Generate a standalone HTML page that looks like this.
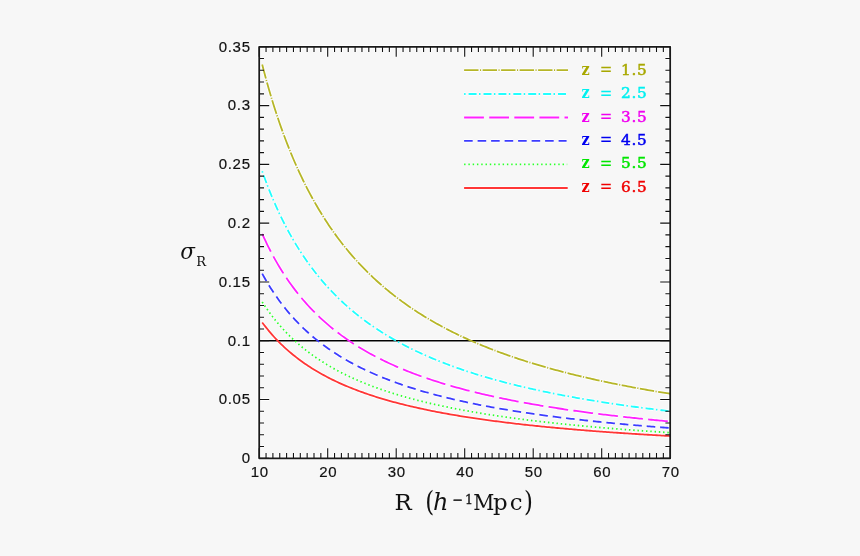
<!DOCTYPE html>
<html><head><meta charset="utf-8"><title>sigma_R vs R</title>
<style>
html,body{margin:0;padding:0;background:#f7f7f7;}
body{width:860px;height:556px;overflow:hidden;}
svg{display:block;will-change:transform;}
.tk{font-family:"Liberation Sans",sans-serif;font-size:15px;fill:#111;stroke:#111;stroke-width:0.2px;letter-spacing:0.7px;}
.dser{font-family:"DejaVu Serif",serif;fill:#111;}
.dserc{font-family:"DejaVu Serif Condensed","DejaVu Serif",serif;fill:#111;}
</style></head><body>
<svg width="860" height="556" viewBox="0 0 860 556">

<path d="M262.21 64.53 L263.92 71.12 L265.63 77.50 L267.34 83.69 L269.04 89.69 L270.75 95.51 L272.46 101.16 L274.16 106.65 L275.87 111.98 L277.58 117.17 L279.28 122.21 L280.99 127.11 L282.70 131.88 L284.41 136.52 L286.11 141.04 L287.82 145.45 L289.53 149.74 L291.23 153.93 L292.94 158.01 L294.65 161.99 L296.36 165.87 L298.06 169.66 L299.77 173.36 L301.48 176.98 L303.18 180.51 L304.89 183.96 L306.60 187.33 L308.30 190.63 L310.01 193.85 L311.72 197.01 L313.43 200.09 L315.13 203.11 L316.84 206.07 L318.55 208.96 L320.25 211.80 L321.96 214.57 L323.67 217.29 L325.38 219.96 L327.08 222.57 L328.79 225.13 L330.50 227.64 L332.20 230.10 L333.91 232.52 L335.62 234.88 L337.32 237.21 L339.03 239.49 L340.74 241.73 L342.45 243.93 L344.15 246.08 L345.86 248.20 L347.57 250.28 L349.27 252.33 L350.98 254.34 L352.69 256.31 L354.39 258.25 L356.10 260.16 L357.81 262.03 L359.52 263.87 L361.22 265.68 L362.93 267.47 L364.64 269.22 L366.34 270.94 L368.05 272.64 L369.76 274.31 L371.47 275.95 L373.17 277.57 L374.88 279.16 L376.59 280.73 L378.29 282.27 L380.00 283.79 L381.71 285.28 L383.41 286.75 L385.12 288.21 L386.83 289.63 L388.54 291.04 L390.24 292.43 L391.95 293.80 L393.66 295.14 L395.36 296.47 L397.07 297.78 L398.78 299.07 L400.49 300.34 L402.19 301.60 L403.90 302.84 L405.61 304.06 L407.31 305.26 L409.02 306.44 L410.73 307.62 L412.43 308.77 L414.14 309.91 L415.85 311.03 L417.56 312.14 L419.26 313.24 L420.97 314.32 L422.68 315.38 L424.38 316.44 L426.09 317.48 L427.80 318.50 L429.51 319.51 L431.21 320.51 L432.92 321.50 L434.63 322.48 L436.33 323.44 L438.04 324.39 L439.75 325.33 L441.45 326.26 L443.16 327.18 L444.87 328.08 L446.58 328.98 L448.28 329.86 L449.99 330.73 L451.70 331.60 L453.40 332.45 L455.11 333.30 L456.82 334.13 L458.53 334.95 L460.23 335.77 L461.94 336.57 L463.65 337.37 L465.35 338.16 L467.06 338.93 L468.77 339.70 L470.47 340.47 L472.18 341.22 L473.89 341.96 L475.60 342.70 L477.30 343.43 L479.01 344.15 L480.72 344.86 L482.42 345.56 L484.13 346.26 L485.84 346.95 L487.55 347.63 L489.25 348.31 L490.96 348.98 L492.67 349.64 L494.37 350.29 L496.08 350.94 L497.79 351.58 L499.49 352.22 L501.20 352.85 L502.91 353.47 L504.62 354.08 L506.32 354.69 L508.03 355.30 L509.74 355.89 L511.44 356.48 L513.15 357.07 L514.86 357.65 L516.57 358.22 L518.27 358.79 L519.98 359.35 L521.69 359.91 L523.39 360.46 L525.10 361.01 L526.81 361.55 L528.51 362.09 L530.22 362.62 L531.93 363.14 L533.64 363.67 L535.34 364.18 L537.05 364.69 L538.76 365.20 L540.46 365.70 L542.17 366.20 L543.88 366.69 L545.59 367.18 L547.29 367.67 L549.00 368.15 L550.71 368.62 L552.41 369.09 L554.12 369.56 L555.83 370.02 L557.53 370.48 L559.24 370.94 L560.95 371.39 L562.66 371.83 L564.36 372.28 L566.07 372.72 L567.78 373.15 L569.48 373.58 L571.19 374.01 L572.90 374.43 L574.60 374.85 L576.31 375.27 L578.02 375.69 L579.73 376.10 L581.43 376.50 L583.14 376.90 L584.85 377.30 L586.55 377.70 L588.26 378.09 L589.97 378.48 L591.68 378.87 L593.38 379.25 L595.09 379.63 L596.80 380.01 L598.50 380.39 L600.21 380.76 L601.92 381.12 L603.62 381.49 L605.33 381.85 L607.04 382.21 L608.75 382.57 L610.45 382.92 L612.16 383.27 L613.87 383.62 L615.57 383.97 L617.28 384.31 L618.99 384.65 L620.70 384.99 L622.40 385.32 L624.11 385.65 L625.82 385.98 L627.52 386.31 L629.23 386.64 L630.94 386.96 L632.64 387.28 L634.35 387.60 L636.06 387.91 L637.77 388.22 L639.47 388.53 L641.18 388.84 L642.89 389.15 L644.59 389.45 L646.30 389.75 L648.01 390.05 L649.72 390.35 L651.42 390.64 L653.13 390.94 L654.84 391.23 L656.54 391.52 L658.25 391.80 L659.96 392.09 L661.66 392.37 L663.37 392.65 L665.08 392.93 L666.79 393.20 L668.49 393.48 L670.20 393.75" fill="none" stroke="#fff" stroke-width="3.6" stroke-dasharray="14.4 1.5 1.1 1.5"/>
<path d="M262.21 171.24 L263.92 176.04 L265.63 180.70 L267.34 185.21 L269.04 189.58 L270.75 193.83 L272.46 197.95 L274.16 201.95 L275.87 205.84 L277.58 209.61 L279.28 213.29 L280.99 216.86 L282.70 220.34 L284.41 223.72 L286.11 227.02 L287.82 230.23 L289.53 233.36 L291.23 236.41 L292.94 239.39 L294.65 242.29 L296.36 245.12 L298.06 247.88 L299.77 250.58 L301.48 253.22 L303.18 255.79 L304.89 258.31 L306.60 260.77 L308.30 263.17 L310.01 265.52 L311.72 267.82 L313.43 270.07 L315.13 272.27 L316.84 274.42 L318.55 276.53 L320.25 278.60 L321.96 280.62 L323.67 282.61 L325.38 284.55 L327.08 286.45 L328.79 288.32 L330.50 290.15 L332.20 291.94 L333.91 293.70 L335.62 295.43 L337.32 297.12 L339.03 298.79 L340.74 300.42 L342.45 302.02 L344.15 303.59 L345.86 305.14 L347.57 306.66 L349.27 308.15 L350.98 309.61 L352.69 311.05 L354.39 312.46 L356.10 313.85 L357.81 315.22 L359.52 316.56 L361.22 317.88 L362.93 319.18 L364.64 320.46 L366.34 321.72 L368.05 322.95 L369.76 324.17 L371.47 325.37 L373.17 326.55 L374.88 327.71 L376.59 328.85 L378.29 329.97 L380.00 331.08 L381.71 332.17 L383.41 333.24 L385.12 334.30 L386.83 335.34 L388.54 336.37 L390.24 337.38 L391.95 338.38 L393.66 339.36 L395.36 340.33 L397.07 341.28 L398.78 342.22 L400.49 343.15 L402.19 344.06 L403.90 344.97 L405.61 345.86 L407.31 346.73 L409.02 347.60 L410.73 348.45 L412.43 349.29 L414.14 350.12 L415.85 350.94 L417.56 351.75 L419.26 352.55 L420.97 353.34 L422.68 354.11 L424.38 354.88 L426.09 355.64 L427.80 356.39 L429.51 357.13 L431.21 357.85 L432.92 358.57 L434.63 359.28 L436.33 359.99 L438.04 360.68 L439.75 361.37 L441.45 362.04 L443.16 362.71 L444.87 363.37 L446.58 364.02 L448.28 364.67 L449.99 365.30 L451.70 365.93 L453.40 366.56 L455.11 367.17 L456.82 367.78 L458.53 368.38 L460.23 368.97 L461.94 369.56 L463.65 370.14 L465.35 370.72 L467.06 371.28 L468.77 371.84 L470.47 372.40 L472.18 372.95 L473.89 373.49 L475.60 374.03 L477.30 374.56 L479.01 375.08 L480.72 375.60 L482.42 376.12 L484.13 376.62 L485.84 377.13 L487.55 377.63 L489.25 378.12 L490.96 378.60 L492.67 379.09 L494.37 379.56 L496.08 380.04 L497.79 380.50 L499.49 380.97 L501.20 381.42 L502.91 381.88 L504.62 382.33 L506.32 382.77 L508.03 383.21 L509.74 383.64 L511.44 384.08 L513.15 384.50 L514.86 384.92 L516.57 385.34 L518.27 385.76 L519.98 386.17 L521.69 386.57 L523.39 386.98 L525.10 387.38 L526.81 387.77 L528.51 388.16 L530.22 388.55 L531.93 388.93 L533.64 389.31 L535.34 389.69 L537.05 390.06 L538.76 390.43 L540.46 390.80 L542.17 391.16 L543.88 391.52 L545.59 391.88 L547.29 392.23 L549.00 392.58 L550.71 392.92 L552.41 393.27 L554.12 393.61 L555.83 393.95 L557.53 394.28 L559.24 394.61 L560.95 394.94 L562.66 395.27 L564.36 395.59 L566.07 395.91 L567.78 396.23 L569.48 396.54 L571.19 396.85 L572.90 397.16 L574.60 397.47 L576.31 397.77 L578.02 398.07 L579.73 398.37 L581.43 398.67 L583.14 398.96 L584.85 399.25 L586.55 399.54 L588.26 399.83 L589.97 400.11 L591.68 400.40 L593.38 400.68 L595.09 400.95 L596.80 401.23 L598.50 401.50 L600.21 401.77 L601.92 402.04 L603.62 402.31 L605.33 402.57 L607.04 402.83 L608.75 403.09 L610.45 403.35 L612.16 403.61 L613.87 403.86 L615.57 404.11 L617.28 404.36 L618.99 404.61 L620.70 404.86 L622.40 405.10 L624.11 405.34 L625.82 405.58 L627.52 405.82 L629.23 406.06 L630.94 406.29 L632.64 406.53 L634.35 406.76 L636.06 406.99 L637.77 407.21 L639.47 407.44 L641.18 407.67 L642.89 407.89 L644.59 408.11 L646.30 408.33 L648.01 408.55 L649.72 408.76 L651.42 408.98 L653.13 409.19 L654.84 409.40 L656.54 409.61 L658.25 409.82 L659.96 410.03 L661.66 410.24 L663.37 410.44 L665.08 410.64 L666.79 410.84 L668.49 411.04 L670.20 411.24" fill="none" stroke="#fff" stroke-width="3.6" stroke-dasharray="1.5 3.0 8 2.4"/>
<path d="M262.21 233.85 L263.92 237.60 L265.63 241.24 L267.34 244.77 L269.04 248.19 L270.75 251.51 L272.46 254.73 L274.16 257.86 L275.87 260.90 L277.58 263.85 L279.28 266.73 L280.99 269.52 L282.70 272.24 L284.41 274.89 L286.11 277.46 L287.82 279.97 L289.53 282.42 L291.23 284.81 L292.94 287.13 L294.65 289.40 L296.36 291.62 L298.06 293.78 L299.77 295.89 L301.48 297.95 L303.18 299.96 L304.89 301.93 L306.60 303.85 L308.30 305.73 L310.01 307.57 L311.72 309.36 L313.43 311.12 L315.13 312.84 L316.84 314.53 L318.55 316.18 L320.25 317.79 L321.96 319.38 L323.67 320.93 L325.38 322.44 L327.08 323.93 L328.79 325.39 L330.50 326.82 L332.20 328.23 L333.91 329.60 L335.62 330.95 L337.32 332.28 L339.03 333.58 L340.74 334.85 L342.45 336.11 L344.15 337.34 L345.86 338.54 L347.57 339.73 L349.27 340.90 L350.98 342.04 L352.69 343.17 L354.39 344.27 L356.10 345.36 L357.81 346.43 L359.52 347.48 L361.22 348.51 L362.93 349.52 L364.64 350.52 L366.34 351.51 L368.05 352.47 L369.76 353.42 L371.47 354.36 L373.17 355.28 L374.88 356.19 L376.59 357.08 L378.29 357.96 L380.00 358.83 L381.71 359.68 L383.41 360.52 L385.12 361.35 L386.83 362.16 L388.54 362.96 L390.24 363.75 L391.95 364.53 L393.66 365.30 L395.36 366.06 L397.07 366.80 L398.78 367.54 L400.49 368.27 L402.19 368.98 L403.90 369.69 L405.61 370.38 L407.31 371.07 L409.02 371.74 L410.73 372.41 L412.43 373.07 L414.14 373.72 L415.85 374.36 L417.56 374.99 L419.26 375.61 L420.97 376.23 L422.68 376.84 L424.38 377.44 L426.09 378.03 L427.80 378.61 L429.51 379.19 L431.21 379.76 L432.92 380.32 L434.63 380.88 L436.33 381.43 L438.04 381.97 L439.75 382.51 L441.45 383.04 L443.16 383.56 L444.87 384.08 L446.58 384.59 L448.28 385.09 L449.99 385.59 L451.70 386.08 L453.40 386.57 L455.11 387.05 L456.82 387.52 L458.53 387.99 L460.23 388.46 L461.94 388.92 L463.65 389.37 L465.35 389.82 L467.06 390.26 L468.77 390.70 L470.47 391.13 L472.18 391.56 L473.89 391.99 L475.60 392.41 L477.30 392.82 L479.01 393.23 L480.72 393.64 L482.42 394.04 L484.13 394.44 L485.84 394.83 L487.55 395.22 L489.25 395.61 L490.96 395.99 L492.67 396.36 L494.37 396.74 L496.08 397.11 L497.79 397.47 L499.49 397.83 L501.20 398.19 L502.91 398.55 L504.62 398.90 L506.32 399.24 L508.03 399.59 L509.74 399.93 L511.44 400.26 L513.15 400.60 L514.86 400.93 L516.57 401.26 L518.27 401.58 L519.98 401.90 L521.69 402.22 L523.39 402.53 L525.10 402.84 L526.81 403.15 L528.51 403.46 L530.22 403.76 L531.93 404.06 L533.64 404.36 L535.34 404.65 L537.05 404.94 L538.76 405.23 L540.46 405.52 L542.17 405.80 L543.88 406.08 L545.59 406.36 L547.29 406.64 L549.00 406.91 L550.71 407.18 L552.41 407.45 L554.12 407.72 L555.83 407.98 L557.53 408.24 L559.24 408.50 L560.95 408.76 L562.66 409.01 L564.36 409.27 L566.07 409.52 L567.78 409.77 L569.48 410.01 L571.19 410.25 L572.90 410.50 L574.60 410.74 L576.31 410.97 L578.02 411.21 L579.73 411.44 L581.43 411.67 L583.14 411.90 L584.85 412.13 L586.55 412.36 L588.26 412.58 L589.97 412.80 L591.68 413.02 L593.38 413.24 L595.09 413.46 L596.80 413.68 L598.50 413.89 L600.21 414.10 L601.92 414.31 L603.62 414.52 L605.33 414.72 L607.04 414.93 L608.75 415.13 L610.45 415.33 L612.16 415.53 L613.87 415.73 L615.57 415.93 L617.28 416.13 L618.99 416.32 L620.70 416.51 L622.40 416.70 L624.11 416.89 L625.82 417.08 L627.52 417.27 L629.23 417.45 L630.94 417.64 L632.64 417.82 L634.35 418.00 L636.06 418.18 L637.77 418.36 L639.47 418.53 L641.18 418.71 L642.89 418.88 L644.59 419.06 L646.30 419.23 L648.01 419.40 L649.72 419.57 L651.42 419.74 L653.13 419.90 L654.84 420.07 L656.54 420.23 L658.25 420.40 L659.96 420.56 L661.66 420.72 L663.37 420.88 L665.08 421.04 L666.79 421.19 L668.49 421.35 L670.20 421.51" fill="none" stroke="#fff" stroke-width="3.6" stroke-dasharray="19.8 5.3"/>
<path d="M262.21 273.62 L263.92 276.71 L265.63 279.70 L267.34 282.61 L269.04 285.42 L270.75 288.15 L272.46 290.80 L274.16 293.38 L275.87 295.88 L277.58 298.31 L279.28 300.67 L280.99 302.97 L282.70 305.21 L284.41 307.39 L286.11 309.51 L287.82 311.57 L289.53 313.59 L291.23 315.55 L292.94 317.46 L294.65 319.33 L296.36 321.15 L298.06 322.93 L299.77 324.67 L301.48 326.36 L303.18 328.02 L304.89 329.63 L306.60 331.22 L308.30 332.76 L310.01 334.28 L311.72 335.75 L313.43 337.20 L315.13 338.62 L316.84 340.00 L318.55 341.36 L320.25 342.69 L321.96 343.99 L323.67 345.27 L325.38 346.52 L327.08 347.74 L328.79 348.94 L330.50 350.12 L332.20 351.27 L333.91 352.41 L335.62 353.52 L337.32 354.61 L339.03 355.68 L340.74 356.73 L342.45 357.76 L344.15 358.77 L345.86 359.76 L347.57 360.74 L349.27 361.70 L350.98 362.64 L352.69 363.57 L354.39 364.48 L356.10 365.37 L357.81 366.25 L359.52 367.11 L361.22 367.96 L362.93 368.80 L364.64 369.62 L366.34 370.43 L368.05 371.23 L369.76 372.01 L371.47 372.78 L373.17 373.54 L374.88 374.28 L376.59 375.02 L378.29 375.74 L380.00 376.45 L381.71 377.15 L383.41 377.85 L385.12 378.53 L386.83 379.20 L388.54 379.86 L390.24 380.51 L391.95 381.15 L393.66 381.78 L395.36 382.40 L397.07 383.02 L398.78 383.62 L400.49 384.22 L402.19 384.81 L403.90 385.39 L405.61 385.96 L407.31 386.52 L409.02 387.08 L410.73 387.63 L412.43 388.17 L414.14 388.70 L415.85 389.23 L417.56 389.75 L419.26 390.27 L420.97 390.77 L422.68 391.27 L424.38 391.77 L426.09 392.25 L427.80 392.73 L429.51 393.21 L431.21 393.68 L432.92 394.14 L434.63 394.60 L436.33 395.05 L438.04 395.50 L439.75 395.94 L441.45 396.37 L443.16 396.80 L444.87 397.23 L446.58 397.65 L448.28 398.06 L449.99 398.47 L451.70 398.88 L453.40 399.28 L455.11 399.67 L456.82 400.06 L458.53 400.45 L460.23 400.83 L461.94 401.21 L463.65 401.58 L465.35 401.95 L467.06 402.32 L468.77 402.68 L470.47 403.04 L472.18 403.39 L473.89 403.74 L475.60 404.08 L477.30 404.42 L479.01 404.76 L480.72 405.10 L482.42 405.43 L484.13 405.75 L485.84 406.08 L487.55 406.40 L489.25 406.71 L490.96 407.03 L492.67 407.34 L494.37 407.65 L496.08 407.95 L497.79 408.25 L499.49 408.55 L501.20 408.84 L502.91 409.13 L504.62 409.42 L506.32 409.71 L508.03 409.99 L509.74 410.27 L511.44 410.55 L513.15 410.82 L514.86 411.09 L516.57 411.36 L518.27 411.63 L519.98 411.89 L521.69 412.16 L523.39 412.41 L525.10 412.67 L526.81 412.92 L528.51 413.18 L530.22 413.43 L531.93 413.67 L533.64 413.92 L535.34 414.16 L537.05 414.40 L538.76 414.64 L540.46 414.87 L542.17 415.11 L543.88 415.34 L545.59 415.57 L547.29 415.79 L549.00 416.02 L550.71 416.24 L552.41 416.46 L554.12 416.68 L555.83 416.90 L557.53 417.11 L559.24 417.33 L560.95 417.54 L562.66 417.75 L564.36 417.96 L566.07 418.16 L567.78 418.37 L569.48 418.57 L571.19 418.77 L572.90 418.97 L574.60 419.16 L576.31 419.36 L578.02 419.55 L579.73 419.75 L581.43 419.94 L583.14 420.13 L584.85 420.31 L586.55 420.50 L588.26 420.68 L589.97 420.87 L591.68 421.05 L593.38 421.23 L595.09 421.41 L596.80 421.58 L598.50 421.76 L600.21 421.93 L601.92 422.10 L603.62 422.28 L605.33 422.45 L607.04 422.61 L608.75 422.78 L610.45 422.95 L612.16 423.11 L613.87 423.28 L615.57 423.44 L617.28 423.60 L618.99 423.76 L620.70 423.92 L622.40 424.07 L624.11 424.23 L625.82 424.38 L627.52 424.54 L629.23 424.69 L630.94 424.84 L632.64 424.99 L634.35 425.14 L636.06 425.29 L637.77 425.43 L639.47 425.58 L641.18 425.72 L642.89 425.87 L644.59 426.01 L646.30 426.15 L648.01 426.29 L649.72 426.43 L651.42 426.57 L653.13 426.71 L654.84 426.84 L656.54 426.98 L658.25 427.11 L659.96 427.25 L661.66 427.38 L663.37 427.51 L665.08 427.64 L666.79 427.77 L668.49 427.90 L670.20 428.03" fill="none" stroke="#fff" stroke-width="3.6" stroke-dasharray="8.6 4.9"/>
<path d="M262.21 301.97 L263.92 304.59 L265.63 307.12 L267.34 309.58 L269.04 311.96 L270.75 314.27 L272.46 316.52 L274.16 318.70 L275.87 320.81 L277.58 322.87 L279.28 324.87 L280.99 326.82 L282.70 328.71 L284.41 330.55 L286.11 332.35 L287.82 334.10 L289.53 335.80 L291.23 337.46 L292.94 339.08 L294.65 340.66 L296.36 342.21 L298.06 343.71 L299.77 345.18 L301.48 346.62 L303.18 348.02 L304.89 349.39 L306.60 350.73 L308.30 352.04 L310.01 353.32 L311.72 354.57 L313.43 355.79 L315.13 356.99 L316.84 358.16 L318.55 359.31 L320.25 360.44 L321.96 361.54 L323.67 362.62 L325.38 363.68 L327.08 364.71 L328.79 365.73 L330.50 366.73 L332.20 367.71 L333.91 368.66 L335.62 369.60 L337.32 370.53 L339.03 371.43 L340.74 372.32 L342.45 373.19 L344.15 374.05 L345.86 374.89 L347.57 375.72 L349.27 376.53 L350.98 377.33 L352.69 378.11 L354.39 378.88 L356.10 379.64 L357.81 380.38 L359.52 381.11 L361.22 381.83 L362.93 382.54 L364.64 383.23 L366.34 383.92 L368.05 384.59 L369.76 385.26 L371.47 385.91 L373.17 386.55 L374.88 387.18 L376.59 387.80 L378.29 388.42 L380.00 389.02 L381.71 389.61 L383.41 390.20 L385.12 390.77 L386.83 391.34 L388.54 391.90 L390.24 392.45 L391.95 392.99 L393.66 393.53 L395.36 394.05 L397.07 394.57 L398.78 395.09 L400.49 395.59 L402.19 396.09 L403.90 396.58 L405.61 397.06 L407.31 397.54 L409.02 398.01 L410.73 398.48 L412.43 398.94 L414.14 399.39 L415.85 399.84 L417.56 400.28 L419.26 400.71 L420.97 401.14 L422.68 401.56 L424.38 401.98 L426.09 402.39 L427.80 402.80 L429.51 403.20 L431.21 403.60 L432.92 403.99 L434.63 404.38 L436.33 404.76 L438.04 405.14 L439.75 405.51 L441.45 405.88 L443.16 406.24 L444.87 406.60 L446.58 406.96 L448.28 407.31 L449.99 407.66 L451.70 408.00 L453.40 408.34 L455.11 408.67 L456.82 409.00 L458.53 409.33 L460.23 409.65 L461.94 409.97 L463.65 410.29 L465.35 410.60 L467.06 410.91 L468.77 411.22 L470.47 411.52 L472.18 411.82 L473.89 412.11 L475.60 412.41 L477.30 412.70 L479.01 412.98 L480.72 413.26 L482.42 413.54 L484.13 413.82 L485.84 414.09 L487.55 414.37 L489.25 414.63 L490.96 414.90 L492.67 415.16 L494.37 415.42 L496.08 415.68 L497.79 415.93 L499.49 416.19 L501.20 416.43 L502.91 416.68 L504.62 416.93 L506.32 417.17 L508.03 417.41 L509.74 417.64 L511.44 417.88 L513.15 418.11 L514.86 418.34 L516.57 418.57 L518.27 418.79 L519.98 419.02 L521.69 419.24 L523.39 419.46 L525.10 419.68 L526.81 419.89 L528.51 420.10 L530.22 420.31 L531.93 420.52 L533.64 420.73 L535.34 420.94 L537.05 421.14 L538.76 421.34 L540.46 421.54 L542.17 421.74 L543.88 421.93 L545.59 422.13 L547.29 422.32 L549.00 422.51 L550.71 422.70 L552.41 422.88 L554.12 423.07 L555.83 423.25 L557.53 423.44 L559.24 423.62 L560.95 423.80 L562.66 423.97 L564.36 424.15 L566.07 424.32 L567.78 424.50 L569.48 424.67 L571.19 424.84 L572.90 425.01 L574.60 425.17 L576.31 425.34 L578.02 425.50 L579.73 425.66 L581.43 425.83 L583.14 425.99 L584.85 426.14 L586.55 426.30 L588.26 426.46 L589.97 426.61 L591.68 426.77 L593.38 426.92 L595.09 427.07 L596.80 427.22 L598.50 427.37 L600.21 427.52 L601.92 427.66 L603.62 427.81 L605.33 427.95 L607.04 428.09 L608.75 428.23 L610.45 428.37 L612.16 428.51 L613.87 428.65 L615.57 428.79 L617.28 428.93 L618.99 429.06 L620.70 429.19 L622.40 429.33 L624.11 429.46 L625.82 429.59 L627.52 429.72 L629.23 429.85 L630.94 429.98 L632.64 430.10 L634.35 430.23 L636.06 430.36 L637.77 430.48 L639.47 430.60 L641.18 430.73 L642.89 430.85 L644.59 430.97 L646.30 431.09 L648.01 431.21 L649.72 431.32 L651.42 431.44 L653.13 431.56 L654.84 431.67 L656.54 431.79 L658.25 431.90 L659.96 432.01 L661.66 432.12 L663.37 432.24 L665.08 432.35 L666.79 432.46 L668.49 432.57 L670.20 432.67" fill="none" stroke="#fff" stroke-width="3.6" stroke-dasharray="1.45 2.83"/>
<path d="M262.21 322.45 L263.92 324.72 L265.63 326.92 L267.34 329.06 L269.04 331.13 L270.75 333.14 L272.46 335.09 L274.16 336.98 L275.87 338.82 L277.58 340.61 L279.28 342.35 L280.99 344.04 L282.70 345.68 L284.41 347.29 L286.11 348.85 L287.82 350.37 L289.53 351.85 L291.23 353.29 L292.94 354.70 L294.65 356.07 L296.36 357.41 L298.06 358.72 L299.77 360.00 L301.48 361.24 L303.18 362.46 L304.89 363.65 L306.60 364.82 L308.30 365.95 L310.01 367.07 L311.72 368.15 L313.43 369.22 L315.13 370.26 L316.84 371.28 L318.55 372.28 L320.25 373.26 L321.96 374.21 L323.67 375.15 L325.38 376.07 L327.08 376.97 L328.79 377.86 L330.50 378.72 L332.20 379.57 L333.91 380.40 L335.62 381.22 L337.32 382.02 L339.03 382.81 L340.74 383.58 L342.45 384.34 L344.15 385.09 L345.86 385.82 L347.57 386.53 L349.27 387.24 L350.98 387.93 L352.69 388.61 L354.39 389.28 L356.10 389.94 L357.81 390.59 L359.52 391.22 L361.22 391.85 L362.93 392.46 L364.64 393.07 L366.34 393.66 L368.05 394.25 L369.76 394.82 L371.47 395.39 L373.17 395.95 L374.88 396.50 L376.59 397.04 L378.29 397.57 L380.00 398.09 L381.71 398.61 L383.41 399.12 L385.12 399.62 L386.83 400.11 L388.54 400.60 L390.24 401.07 L391.95 401.55 L393.66 402.01 L395.36 402.47 L397.07 402.92 L398.78 403.37 L400.49 403.81 L402.19 404.24 L403.90 404.66 L405.61 405.09 L407.31 405.50 L409.02 405.91 L410.73 406.31 L412.43 406.71 L414.14 407.11 L415.85 407.49 L417.56 407.88 L419.26 408.25 L420.97 408.63 L422.68 408.99 L424.38 409.36 L426.09 409.72 L427.80 410.07 L429.51 410.42 L431.21 410.76 L432.92 411.10 L434.63 411.44 L436.33 411.77 L438.04 412.10 L439.75 412.43 L441.45 412.75 L443.16 413.06 L444.87 413.37 L446.58 413.68 L448.28 413.99 L449.99 414.29 L451.70 414.59 L453.40 414.88 L455.11 415.17 L456.82 415.46 L458.53 415.75 L460.23 416.03 L461.94 416.30 L463.65 416.58 L465.35 416.85 L467.06 417.12 L468.77 417.38 L470.47 417.65 L472.18 417.91 L473.89 418.16 L475.60 418.42 L477.30 418.67 L479.01 418.92 L480.72 419.16 L482.42 419.41 L484.13 419.65 L485.84 419.88 L487.55 420.12 L489.25 420.35 L490.96 420.58 L492.67 420.81 L494.37 421.04 L496.08 421.26 L497.79 421.48 L499.49 421.70 L501.20 421.92 L502.91 422.13 L504.62 422.35 L506.32 422.56 L508.03 422.76 L509.74 422.97 L511.44 423.17 L513.15 423.38 L514.86 423.58 L516.57 423.77 L518.27 423.97 L519.98 424.16 L521.69 424.36 L523.39 424.55 L525.10 424.73 L526.81 424.92 L528.51 425.11 L530.22 425.29 L531.93 425.47 L533.64 425.65 L535.34 425.83 L537.05 426.01 L538.76 426.18 L540.46 426.35 L542.17 426.53 L543.88 426.70 L545.59 426.86 L547.29 427.03 L549.00 427.20 L550.71 427.36 L552.41 427.52 L554.12 427.68 L555.83 427.84 L557.53 428.00 L559.24 428.16 L560.95 428.32 L562.66 428.47 L564.36 428.62 L566.07 428.77 L567.78 428.92 L569.48 429.07 L571.19 429.22 L572.90 429.37 L574.60 429.51 L576.31 429.66 L578.02 429.80 L579.73 429.94 L581.43 430.08 L583.14 430.22 L584.85 430.36 L586.55 430.49 L588.26 430.63 L589.97 430.76 L591.68 430.90 L593.38 431.03 L595.09 431.16 L596.80 431.29 L598.50 431.42 L600.21 431.55 L601.92 431.67 L603.62 431.80 L605.33 431.93 L607.04 432.05 L608.75 432.17 L610.45 432.29 L612.16 432.42 L613.87 432.54 L615.57 432.66 L617.28 432.77 L618.99 432.89 L620.70 433.01 L622.40 433.12 L624.11 433.24 L625.82 433.35 L627.52 433.46 L629.23 433.58 L630.94 433.69 L632.64 433.80 L634.35 433.91 L636.06 434.02 L637.77 434.12 L639.47 434.23 L641.18 434.34 L642.89 434.44 L644.59 434.55 L646.30 434.65 L648.01 434.75 L649.72 434.86 L651.42 434.96 L653.13 435.06 L654.84 435.16 L656.54 435.26 L658.25 435.36 L659.96 435.46 L661.66 435.55 L663.37 435.65 L665.08 435.75 L666.79 435.84 L668.49 435.94 L670.20 436.03" fill="none" stroke="#fff" stroke-width="3.6"/>
<line x1="259.2" y1="340.73" x2="670.2" y2="340.73" stroke="#fff" stroke-width="3"/>
<path d="M259.20 458.30 v-10.00 M259.20 46.80 v10.00 M266.05 458.30 v-5.20 M266.05 46.80 v5.20 M272.90 458.30 v-5.20 M272.90 46.80 v5.20 M279.75 458.30 v-5.20 M279.75 46.80 v5.20 M286.60 458.30 v-5.20 M286.60 46.80 v5.20 M293.45 458.30 v-5.20 M293.45 46.80 v5.20 M300.30 458.30 v-5.20 M300.30 46.80 v5.20 M307.15 458.30 v-5.20 M307.15 46.80 v5.20 M314.00 458.30 v-5.20 M314.00 46.80 v5.20 M320.85 458.30 v-5.20 M320.85 46.80 v5.20 M327.70 458.30 v-10.00 M327.70 46.80 v10.00 M334.55 458.30 v-5.20 M334.55 46.80 v5.20 M341.40 458.30 v-5.20 M341.40 46.80 v5.20 M348.25 458.30 v-5.20 M348.25 46.80 v5.20 M355.10 458.30 v-5.20 M355.10 46.80 v5.20 M361.95 458.30 v-5.20 M361.95 46.80 v5.20 M368.80 458.30 v-5.20 M368.80 46.80 v5.20 M375.65 458.30 v-5.20 M375.65 46.80 v5.20 M382.50 458.30 v-5.20 M382.50 46.80 v5.20 M389.35 458.30 v-5.20 M389.35 46.80 v5.20 M396.20 458.30 v-10.00 M396.20 46.80 v10.00 M403.05 458.30 v-5.20 M403.05 46.80 v5.20 M409.90 458.30 v-5.20 M409.90 46.80 v5.20 M416.75 458.30 v-5.20 M416.75 46.80 v5.20 M423.60 458.30 v-5.20 M423.60 46.80 v5.20 M430.45 458.30 v-5.20 M430.45 46.80 v5.20 M437.30 458.30 v-5.20 M437.30 46.80 v5.20 M444.15 458.30 v-5.20 M444.15 46.80 v5.20 M451.00 458.30 v-5.20 M451.00 46.80 v5.20 M457.85 458.30 v-5.20 M457.85 46.80 v5.20 M464.70 458.30 v-10.00 M464.70 46.80 v10.00 M471.55 458.30 v-5.20 M471.55 46.80 v5.20 M478.40 458.30 v-5.20 M478.40 46.80 v5.20 M485.25 458.30 v-5.20 M485.25 46.80 v5.20 M492.10 458.30 v-5.20 M492.10 46.80 v5.20 M498.95 458.30 v-5.20 M498.95 46.80 v5.20 M505.80 458.30 v-5.20 M505.80 46.80 v5.20 M512.65 458.30 v-5.20 M512.65 46.80 v5.20 M519.50 458.30 v-5.20 M519.50 46.80 v5.20 M526.35 458.30 v-5.20 M526.35 46.80 v5.20 M533.20 458.30 v-10.00 M533.20 46.80 v10.00 M540.05 458.30 v-5.20 M540.05 46.80 v5.20 M546.90 458.30 v-5.20 M546.90 46.80 v5.20 M553.75 458.30 v-5.20 M553.75 46.80 v5.20 M560.60 458.30 v-5.20 M560.60 46.80 v5.20 M567.45 458.30 v-5.20 M567.45 46.80 v5.20 M574.30 458.30 v-5.20 M574.30 46.80 v5.20 M581.15 458.30 v-5.20 M581.15 46.80 v5.20 M588.00 458.30 v-5.20 M588.00 46.80 v5.20 M594.85 458.30 v-5.20 M594.85 46.80 v5.20 M601.70 458.30 v-10.00 M601.70 46.80 v10.00 M608.55 458.30 v-5.20 M608.55 46.80 v5.20 M615.40 458.30 v-5.20 M615.40 46.80 v5.20 M622.25 458.30 v-5.20 M622.25 46.80 v5.20 M629.10 458.30 v-5.20 M629.10 46.80 v5.20 M635.95 458.30 v-5.20 M635.95 46.80 v5.20 M642.80 458.30 v-5.20 M642.80 46.80 v5.20 M649.65 458.30 v-5.20 M649.65 46.80 v5.20 M656.50 458.30 v-5.20 M656.50 46.80 v5.20 M663.35 458.30 v-5.20 M663.35 46.80 v5.20 M670.20 458.30 v-10.00 M670.20 46.80 v10.00 M259.20 458.30 h10.00 M670.20 458.30 h-10.00 M259.20 446.54 h4.80 M670.20 446.54 h-4.80 M259.20 434.79 h4.80 M670.20 434.79 h-4.80 M259.20 423.03 h4.80 M670.20 423.03 h-4.80 M259.20 411.27 h4.80 M670.20 411.27 h-4.80 M259.20 399.51 h10.00 M670.20 399.51 h-10.00 M259.20 387.76 h4.80 M670.20 387.76 h-4.80 M259.20 376.00 h4.80 M670.20 376.00 h-4.80 M259.20 364.24 h4.80 M670.20 364.24 h-4.80 M259.20 352.49 h4.80 M670.20 352.49 h-4.80 M259.20 340.73 h10.00 M670.20 340.73 h-10.00 M259.20 328.97 h4.80 M670.20 328.97 h-4.80 M259.20 317.21 h4.80 M670.20 317.21 h-4.80 M259.20 305.46 h4.80 M670.20 305.46 h-4.80 M259.20 293.70 h4.80 M670.20 293.70 h-4.80 M259.20 281.94 h10.00 M670.20 281.94 h-10.00 M259.20 270.19 h4.80 M670.20 270.19 h-4.80 M259.20 258.43 h4.80 M670.20 258.43 h-4.80 M259.20 246.67 h4.80 M670.20 246.67 h-4.80 M259.20 234.91 h4.80 M670.20 234.91 h-4.80 M259.20 223.16 h10.00 M670.20 223.16 h-10.00 M259.20 211.40 h4.80 M670.20 211.40 h-4.80 M259.20 199.64 h4.80 M670.20 199.64 h-4.80 M259.20 187.89 h4.80 M670.20 187.89 h-4.80 M259.20 176.13 h4.80 M670.20 176.13 h-4.80 M259.20 164.37 h10.00 M670.20 164.37 h-10.00 M259.20 152.61 h4.80 M670.20 152.61 h-4.80 M259.20 140.86 h4.80 M670.20 140.86 h-4.80 M259.20 129.10 h4.80 M670.20 129.10 h-4.80 M259.20 117.34 h4.80 M670.20 117.34 h-4.80 M259.20 105.59 h10.00 M670.20 105.59 h-10.00 M259.20 93.83 h4.80 M670.20 93.83 h-4.80 M259.20 82.07 h4.80 M670.20 82.07 h-4.80 M259.20 70.31 h4.80 M670.20 70.31 h-4.80 M259.20 58.56 h4.80 M670.20 58.56 h-4.80 M259.20 46.80 h10.00 M670.20 46.80 h-10.00" stroke="#fff" stroke-width="3" fill="none"/>
<rect x="259.2" y="46.8" width="411.0" height="411.5" fill="none" stroke="#fff" stroke-width="3.8"/>
<line x1="464.1" y1="70.2" x2="568.0" y2="70.2" stroke="#fff" stroke-width="3.6" stroke-dasharray="14.4 1.5 1.1 1.5"/>
<line x1="464.1" y1="94.0" x2="566.2" y2="94.0" stroke="#fff" stroke-width="3.6" stroke-dasharray="1.5 3.0 8 2.4"/>
<line x1="464.1" y1="117.5" x2="568.0" y2="117.5" stroke="#fff" stroke-width="3.6" stroke-dasharray="19.8 5.3"/>
<line x1="464.1" y1="140.9" x2="566.6" y2="140.9" stroke="#fff" stroke-width="3.6" stroke-dasharray="8.6 4.9"/>
<line x1="464.1" y1="164.3" x2="567.2" y2="164.3" stroke="#fff" stroke-width="3.6" stroke-dasharray="1.45 2.83"/>
<line x1="464.1" y1="188.0" x2="567.7" y2="188.0" stroke="#fff" stroke-width="3.6"/>
<line x1="259.2" y1="340.73" x2="670.2" y2="340.73" stroke="#000" stroke-width="1.3"/>
<path d="M262.21 64.53 L263.92 71.12 L265.63 77.50 L267.34 83.69 L269.04 89.69 L270.75 95.51 L272.46 101.16 L274.16 106.65 L275.87 111.98 L277.58 117.17 L279.28 122.21 L280.99 127.11 L282.70 131.88 L284.41 136.52 L286.11 141.04 L287.82 145.45 L289.53 149.74 L291.23 153.93 L292.94 158.01 L294.65 161.99 L296.36 165.87 L298.06 169.66 L299.77 173.36 L301.48 176.98 L303.18 180.51 L304.89 183.96 L306.60 187.33 L308.30 190.63 L310.01 193.85 L311.72 197.01 L313.43 200.09 L315.13 203.11 L316.84 206.07 L318.55 208.96 L320.25 211.80 L321.96 214.57 L323.67 217.29 L325.38 219.96 L327.08 222.57 L328.79 225.13 L330.50 227.64 L332.20 230.10 L333.91 232.52 L335.62 234.88 L337.32 237.21 L339.03 239.49 L340.74 241.73 L342.45 243.93 L344.15 246.08 L345.86 248.20 L347.57 250.28 L349.27 252.33 L350.98 254.34 L352.69 256.31 L354.39 258.25 L356.10 260.16 L357.81 262.03 L359.52 263.87 L361.22 265.68 L362.93 267.47 L364.64 269.22 L366.34 270.94 L368.05 272.64 L369.76 274.31 L371.47 275.95 L373.17 277.57 L374.88 279.16 L376.59 280.73 L378.29 282.27 L380.00 283.79 L381.71 285.28 L383.41 286.75 L385.12 288.21 L386.83 289.63 L388.54 291.04 L390.24 292.43 L391.95 293.80 L393.66 295.14 L395.36 296.47 L397.07 297.78 L398.78 299.07 L400.49 300.34 L402.19 301.60 L403.90 302.84 L405.61 304.06 L407.31 305.26 L409.02 306.44 L410.73 307.62 L412.43 308.77 L414.14 309.91 L415.85 311.03 L417.56 312.14 L419.26 313.24 L420.97 314.32 L422.68 315.38 L424.38 316.44 L426.09 317.48 L427.80 318.50 L429.51 319.51 L431.21 320.51 L432.92 321.50 L434.63 322.48 L436.33 323.44 L438.04 324.39 L439.75 325.33 L441.45 326.26 L443.16 327.18 L444.87 328.08 L446.58 328.98 L448.28 329.86 L449.99 330.73 L451.70 331.60 L453.40 332.45 L455.11 333.30 L456.82 334.13 L458.53 334.95 L460.23 335.77 L461.94 336.57 L463.65 337.37 L465.35 338.16 L467.06 338.93 L468.77 339.70 L470.47 340.47 L472.18 341.22 L473.89 341.96 L475.60 342.70 L477.30 343.43 L479.01 344.15 L480.72 344.86 L482.42 345.56 L484.13 346.26 L485.84 346.95 L487.55 347.63 L489.25 348.31 L490.96 348.98 L492.67 349.64 L494.37 350.29 L496.08 350.94 L497.79 351.58 L499.49 352.22 L501.20 352.85 L502.91 353.47 L504.62 354.08 L506.32 354.69 L508.03 355.30 L509.74 355.89 L511.44 356.48 L513.15 357.07 L514.86 357.65 L516.57 358.22 L518.27 358.79 L519.98 359.35 L521.69 359.91 L523.39 360.46 L525.10 361.01 L526.81 361.55 L528.51 362.09 L530.22 362.62 L531.93 363.14 L533.64 363.67 L535.34 364.18 L537.05 364.69 L538.76 365.20 L540.46 365.70 L542.17 366.20 L543.88 366.69 L545.59 367.18 L547.29 367.67 L549.00 368.15 L550.71 368.62 L552.41 369.09 L554.12 369.56 L555.83 370.02 L557.53 370.48 L559.24 370.94 L560.95 371.39 L562.66 371.83 L564.36 372.28 L566.07 372.72 L567.78 373.15 L569.48 373.58 L571.19 374.01 L572.90 374.43 L574.60 374.85 L576.31 375.27 L578.02 375.69 L579.73 376.10 L581.43 376.50 L583.14 376.90 L584.85 377.30 L586.55 377.70 L588.26 378.09 L589.97 378.48 L591.68 378.87 L593.38 379.25 L595.09 379.63 L596.80 380.01 L598.50 380.39 L600.21 380.76 L601.92 381.12 L603.62 381.49 L605.33 381.85 L607.04 382.21 L608.75 382.57 L610.45 382.92 L612.16 383.27 L613.87 383.62 L615.57 383.97 L617.28 384.31 L618.99 384.65 L620.70 384.99 L622.40 385.32 L624.11 385.65 L625.82 385.98 L627.52 386.31 L629.23 386.64 L630.94 386.96 L632.64 387.28 L634.35 387.60 L636.06 387.91 L637.77 388.22 L639.47 388.53 L641.18 388.84 L642.89 389.15 L644.59 389.45 L646.30 389.75 L648.01 390.05 L649.72 390.35 L651.42 390.64 L653.13 390.94 L654.84 391.23 L656.54 391.52 L658.25 391.80 L659.96 392.09 L661.66 392.37 L663.37 392.65 L665.08 392.93 L666.79 393.20 L668.49 393.48 L670.20 393.75" fill="none" stroke="#b6b628" stroke-width="1.8" stroke-dasharray="14.4 1.5 1.1 1.5"/>
<path d="M262.21 171.24 L263.92 176.04 L265.63 180.70 L267.34 185.21 L269.04 189.58 L270.75 193.83 L272.46 197.95 L274.16 201.95 L275.87 205.84 L277.58 209.61 L279.28 213.29 L280.99 216.86 L282.70 220.34 L284.41 223.72 L286.11 227.02 L287.82 230.23 L289.53 233.36 L291.23 236.41 L292.94 239.39 L294.65 242.29 L296.36 245.12 L298.06 247.88 L299.77 250.58 L301.48 253.22 L303.18 255.79 L304.89 258.31 L306.60 260.77 L308.30 263.17 L310.01 265.52 L311.72 267.82 L313.43 270.07 L315.13 272.27 L316.84 274.42 L318.55 276.53 L320.25 278.60 L321.96 280.62 L323.67 282.61 L325.38 284.55 L327.08 286.45 L328.79 288.32 L330.50 290.15 L332.20 291.94 L333.91 293.70 L335.62 295.43 L337.32 297.12 L339.03 298.79 L340.74 300.42 L342.45 302.02 L344.15 303.59 L345.86 305.14 L347.57 306.66 L349.27 308.15 L350.98 309.61 L352.69 311.05 L354.39 312.46 L356.10 313.85 L357.81 315.22 L359.52 316.56 L361.22 317.88 L362.93 319.18 L364.64 320.46 L366.34 321.72 L368.05 322.95 L369.76 324.17 L371.47 325.37 L373.17 326.55 L374.88 327.71 L376.59 328.85 L378.29 329.97 L380.00 331.08 L381.71 332.17 L383.41 333.24 L385.12 334.30 L386.83 335.34 L388.54 336.37 L390.24 337.38 L391.95 338.38 L393.66 339.36 L395.36 340.33 L397.07 341.28 L398.78 342.22 L400.49 343.15 L402.19 344.06 L403.90 344.97 L405.61 345.86 L407.31 346.73 L409.02 347.60 L410.73 348.45 L412.43 349.29 L414.14 350.12 L415.85 350.94 L417.56 351.75 L419.26 352.55 L420.97 353.34 L422.68 354.11 L424.38 354.88 L426.09 355.64 L427.80 356.39 L429.51 357.13 L431.21 357.85 L432.92 358.57 L434.63 359.28 L436.33 359.99 L438.04 360.68 L439.75 361.37 L441.45 362.04 L443.16 362.71 L444.87 363.37 L446.58 364.02 L448.28 364.67 L449.99 365.30 L451.70 365.93 L453.40 366.56 L455.11 367.17 L456.82 367.78 L458.53 368.38 L460.23 368.97 L461.94 369.56 L463.65 370.14 L465.35 370.72 L467.06 371.28 L468.77 371.84 L470.47 372.40 L472.18 372.95 L473.89 373.49 L475.60 374.03 L477.30 374.56 L479.01 375.08 L480.72 375.60 L482.42 376.12 L484.13 376.62 L485.84 377.13 L487.55 377.63 L489.25 378.12 L490.96 378.60 L492.67 379.09 L494.37 379.56 L496.08 380.04 L497.79 380.50 L499.49 380.97 L501.20 381.42 L502.91 381.88 L504.62 382.33 L506.32 382.77 L508.03 383.21 L509.74 383.64 L511.44 384.08 L513.15 384.50 L514.86 384.92 L516.57 385.34 L518.27 385.76 L519.98 386.17 L521.69 386.57 L523.39 386.98 L525.10 387.38 L526.81 387.77 L528.51 388.16 L530.22 388.55 L531.93 388.93 L533.64 389.31 L535.34 389.69 L537.05 390.06 L538.76 390.43 L540.46 390.80 L542.17 391.16 L543.88 391.52 L545.59 391.88 L547.29 392.23 L549.00 392.58 L550.71 392.92 L552.41 393.27 L554.12 393.61 L555.83 393.95 L557.53 394.28 L559.24 394.61 L560.95 394.94 L562.66 395.27 L564.36 395.59 L566.07 395.91 L567.78 396.23 L569.48 396.54 L571.19 396.85 L572.90 397.16 L574.60 397.47 L576.31 397.77 L578.02 398.07 L579.73 398.37 L581.43 398.67 L583.14 398.96 L584.85 399.25 L586.55 399.54 L588.26 399.83 L589.97 400.11 L591.68 400.40 L593.38 400.68 L595.09 400.95 L596.80 401.23 L598.50 401.50 L600.21 401.77 L601.92 402.04 L603.62 402.31 L605.33 402.57 L607.04 402.83 L608.75 403.09 L610.45 403.35 L612.16 403.61 L613.87 403.86 L615.57 404.11 L617.28 404.36 L618.99 404.61 L620.70 404.86 L622.40 405.10 L624.11 405.34 L625.82 405.58 L627.52 405.82 L629.23 406.06 L630.94 406.29 L632.64 406.53 L634.35 406.76 L636.06 406.99 L637.77 407.21 L639.47 407.44 L641.18 407.67 L642.89 407.89 L644.59 408.11 L646.30 408.33 L648.01 408.55 L649.72 408.76 L651.42 408.98 L653.13 409.19 L654.84 409.40 L656.54 409.61 L658.25 409.82 L659.96 410.03 L661.66 410.24 L663.37 410.44 L665.08 410.64 L666.79 410.84 L668.49 411.04 L670.20 411.24" fill="none" stroke="#22ffff" stroke-width="1.8" stroke-dasharray="1.5 3.0 8 2.4"/>
<path d="M262.21 233.85 L263.92 237.60 L265.63 241.24 L267.34 244.77 L269.04 248.19 L270.75 251.51 L272.46 254.73 L274.16 257.86 L275.87 260.90 L277.58 263.85 L279.28 266.73 L280.99 269.52 L282.70 272.24 L284.41 274.89 L286.11 277.46 L287.82 279.97 L289.53 282.42 L291.23 284.81 L292.94 287.13 L294.65 289.40 L296.36 291.62 L298.06 293.78 L299.77 295.89 L301.48 297.95 L303.18 299.96 L304.89 301.93 L306.60 303.85 L308.30 305.73 L310.01 307.57 L311.72 309.36 L313.43 311.12 L315.13 312.84 L316.84 314.53 L318.55 316.18 L320.25 317.79 L321.96 319.38 L323.67 320.93 L325.38 322.44 L327.08 323.93 L328.79 325.39 L330.50 326.82 L332.20 328.23 L333.91 329.60 L335.62 330.95 L337.32 332.28 L339.03 333.58 L340.74 334.85 L342.45 336.11 L344.15 337.34 L345.86 338.54 L347.57 339.73 L349.27 340.90 L350.98 342.04 L352.69 343.17 L354.39 344.27 L356.10 345.36 L357.81 346.43 L359.52 347.48 L361.22 348.51 L362.93 349.52 L364.64 350.52 L366.34 351.51 L368.05 352.47 L369.76 353.42 L371.47 354.36 L373.17 355.28 L374.88 356.19 L376.59 357.08 L378.29 357.96 L380.00 358.83 L381.71 359.68 L383.41 360.52 L385.12 361.35 L386.83 362.16 L388.54 362.96 L390.24 363.75 L391.95 364.53 L393.66 365.30 L395.36 366.06 L397.07 366.80 L398.78 367.54 L400.49 368.27 L402.19 368.98 L403.90 369.69 L405.61 370.38 L407.31 371.07 L409.02 371.74 L410.73 372.41 L412.43 373.07 L414.14 373.72 L415.85 374.36 L417.56 374.99 L419.26 375.61 L420.97 376.23 L422.68 376.84 L424.38 377.44 L426.09 378.03 L427.80 378.61 L429.51 379.19 L431.21 379.76 L432.92 380.32 L434.63 380.88 L436.33 381.43 L438.04 381.97 L439.75 382.51 L441.45 383.04 L443.16 383.56 L444.87 384.08 L446.58 384.59 L448.28 385.09 L449.99 385.59 L451.70 386.08 L453.40 386.57 L455.11 387.05 L456.82 387.52 L458.53 387.99 L460.23 388.46 L461.94 388.92 L463.65 389.37 L465.35 389.82 L467.06 390.26 L468.77 390.70 L470.47 391.13 L472.18 391.56 L473.89 391.99 L475.60 392.41 L477.30 392.82 L479.01 393.23 L480.72 393.64 L482.42 394.04 L484.13 394.44 L485.84 394.83 L487.55 395.22 L489.25 395.61 L490.96 395.99 L492.67 396.36 L494.37 396.74 L496.08 397.11 L497.79 397.47 L499.49 397.83 L501.20 398.19 L502.91 398.55 L504.62 398.90 L506.32 399.24 L508.03 399.59 L509.74 399.93 L511.44 400.26 L513.15 400.60 L514.86 400.93 L516.57 401.26 L518.27 401.58 L519.98 401.90 L521.69 402.22 L523.39 402.53 L525.10 402.84 L526.81 403.15 L528.51 403.46 L530.22 403.76 L531.93 404.06 L533.64 404.36 L535.34 404.65 L537.05 404.94 L538.76 405.23 L540.46 405.52 L542.17 405.80 L543.88 406.08 L545.59 406.36 L547.29 406.64 L549.00 406.91 L550.71 407.18 L552.41 407.45 L554.12 407.72 L555.83 407.98 L557.53 408.24 L559.24 408.50 L560.95 408.76 L562.66 409.01 L564.36 409.27 L566.07 409.52 L567.78 409.77 L569.48 410.01 L571.19 410.25 L572.90 410.50 L574.60 410.74 L576.31 410.97 L578.02 411.21 L579.73 411.44 L581.43 411.67 L583.14 411.90 L584.85 412.13 L586.55 412.36 L588.26 412.58 L589.97 412.80 L591.68 413.02 L593.38 413.24 L595.09 413.46 L596.80 413.68 L598.50 413.89 L600.21 414.10 L601.92 414.31 L603.62 414.52 L605.33 414.72 L607.04 414.93 L608.75 415.13 L610.45 415.33 L612.16 415.53 L613.87 415.73 L615.57 415.93 L617.28 416.13 L618.99 416.32 L620.70 416.51 L622.40 416.70 L624.11 416.89 L625.82 417.08 L627.52 417.27 L629.23 417.45 L630.94 417.64 L632.64 417.82 L634.35 418.00 L636.06 418.18 L637.77 418.36 L639.47 418.53 L641.18 418.71 L642.89 418.88 L644.59 419.06 L646.30 419.23 L648.01 419.40 L649.72 419.57 L651.42 419.74 L653.13 419.90 L654.84 420.07 L656.54 420.23 L658.25 420.40 L659.96 420.56 L661.66 420.72 L663.37 420.88 L665.08 421.04 L666.79 421.19 L668.49 421.35 L670.20 421.51" fill="none" stroke="#ff22ff" stroke-width="1.8" stroke-dasharray="19.8 5.3"/>
<path d="M262.21 273.62 L263.92 276.71 L265.63 279.70 L267.34 282.61 L269.04 285.42 L270.75 288.15 L272.46 290.80 L274.16 293.38 L275.87 295.88 L277.58 298.31 L279.28 300.67 L280.99 302.97 L282.70 305.21 L284.41 307.39 L286.11 309.51 L287.82 311.57 L289.53 313.59 L291.23 315.55 L292.94 317.46 L294.65 319.33 L296.36 321.15 L298.06 322.93 L299.77 324.67 L301.48 326.36 L303.18 328.02 L304.89 329.63 L306.60 331.22 L308.30 332.76 L310.01 334.28 L311.72 335.75 L313.43 337.20 L315.13 338.62 L316.84 340.00 L318.55 341.36 L320.25 342.69 L321.96 343.99 L323.67 345.27 L325.38 346.52 L327.08 347.74 L328.79 348.94 L330.50 350.12 L332.20 351.27 L333.91 352.41 L335.62 353.52 L337.32 354.61 L339.03 355.68 L340.74 356.73 L342.45 357.76 L344.15 358.77 L345.86 359.76 L347.57 360.74 L349.27 361.70 L350.98 362.64 L352.69 363.57 L354.39 364.48 L356.10 365.37 L357.81 366.25 L359.52 367.11 L361.22 367.96 L362.93 368.80 L364.64 369.62 L366.34 370.43 L368.05 371.23 L369.76 372.01 L371.47 372.78 L373.17 373.54 L374.88 374.28 L376.59 375.02 L378.29 375.74 L380.00 376.45 L381.71 377.15 L383.41 377.85 L385.12 378.53 L386.83 379.20 L388.54 379.86 L390.24 380.51 L391.95 381.15 L393.66 381.78 L395.36 382.40 L397.07 383.02 L398.78 383.62 L400.49 384.22 L402.19 384.81 L403.90 385.39 L405.61 385.96 L407.31 386.52 L409.02 387.08 L410.73 387.63 L412.43 388.17 L414.14 388.70 L415.85 389.23 L417.56 389.75 L419.26 390.27 L420.97 390.77 L422.68 391.27 L424.38 391.77 L426.09 392.25 L427.80 392.73 L429.51 393.21 L431.21 393.68 L432.92 394.14 L434.63 394.60 L436.33 395.05 L438.04 395.50 L439.75 395.94 L441.45 396.37 L443.16 396.80 L444.87 397.23 L446.58 397.65 L448.28 398.06 L449.99 398.47 L451.70 398.88 L453.40 399.28 L455.11 399.67 L456.82 400.06 L458.53 400.45 L460.23 400.83 L461.94 401.21 L463.65 401.58 L465.35 401.95 L467.06 402.32 L468.77 402.68 L470.47 403.04 L472.18 403.39 L473.89 403.74 L475.60 404.08 L477.30 404.42 L479.01 404.76 L480.72 405.10 L482.42 405.43 L484.13 405.75 L485.84 406.08 L487.55 406.40 L489.25 406.71 L490.96 407.03 L492.67 407.34 L494.37 407.65 L496.08 407.95 L497.79 408.25 L499.49 408.55 L501.20 408.84 L502.91 409.13 L504.62 409.42 L506.32 409.71 L508.03 409.99 L509.74 410.27 L511.44 410.55 L513.15 410.82 L514.86 411.09 L516.57 411.36 L518.27 411.63 L519.98 411.89 L521.69 412.16 L523.39 412.41 L525.10 412.67 L526.81 412.92 L528.51 413.18 L530.22 413.43 L531.93 413.67 L533.64 413.92 L535.34 414.16 L537.05 414.40 L538.76 414.64 L540.46 414.87 L542.17 415.11 L543.88 415.34 L545.59 415.57 L547.29 415.79 L549.00 416.02 L550.71 416.24 L552.41 416.46 L554.12 416.68 L555.83 416.90 L557.53 417.11 L559.24 417.33 L560.95 417.54 L562.66 417.75 L564.36 417.96 L566.07 418.16 L567.78 418.37 L569.48 418.57 L571.19 418.77 L572.90 418.97 L574.60 419.16 L576.31 419.36 L578.02 419.55 L579.73 419.75 L581.43 419.94 L583.14 420.13 L584.85 420.31 L586.55 420.50 L588.26 420.68 L589.97 420.87 L591.68 421.05 L593.38 421.23 L595.09 421.41 L596.80 421.58 L598.50 421.76 L600.21 421.93 L601.92 422.10 L603.62 422.28 L605.33 422.45 L607.04 422.61 L608.75 422.78 L610.45 422.95 L612.16 423.11 L613.87 423.28 L615.57 423.44 L617.28 423.60 L618.99 423.76 L620.70 423.92 L622.40 424.07 L624.11 424.23 L625.82 424.38 L627.52 424.54 L629.23 424.69 L630.94 424.84 L632.64 424.99 L634.35 425.14 L636.06 425.29 L637.77 425.43 L639.47 425.58 L641.18 425.72 L642.89 425.87 L644.59 426.01 L646.30 426.15 L648.01 426.29 L649.72 426.43 L651.42 426.57 L653.13 426.71 L654.84 426.84 L656.54 426.98 L658.25 427.11 L659.96 427.25 L661.66 427.38 L663.37 427.51 L665.08 427.64 L666.79 427.77 L668.49 427.90 L670.20 428.03" fill="none" stroke="#3c3cff" stroke-width="1.8" stroke-dasharray="8.6 4.9"/>
<path d="M262.21 301.97 L263.92 304.59 L265.63 307.12 L267.34 309.58 L269.04 311.96 L270.75 314.27 L272.46 316.52 L274.16 318.70 L275.87 320.81 L277.58 322.87 L279.28 324.87 L280.99 326.82 L282.70 328.71 L284.41 330.55 L286.11 332.35 L287.82 334.10 L289.53 335.80 L291.23 337.46 L292.94 339.08 L294.65 340.66 L296.36 342.21 L298.06 343.71 L299.77 345.18 L301.48 346.62 L303.18 348.02 L304.89 349.39 L306.60 350.73 L308.30 352.04 L310.01 353.32 L311.72 354.57 L313.43 355.79 L315.13 356.99 L316.84 358.16 L318.55 359.31 L320.25 360.44 L321.96 361.54 L323.67 362.62 L325.38 363.68 L327.08 364.71 L328.79 365.73 L330.50 366.73 L332.20 367.71 L333.91 368.66 L335.62 369.60 L337.32 370.53 L339.03 371.43 L340.74 372.32 L342.45 373.19 L344.15 374.05 L345.86 374.89 L347.57 375.72 L349.27 376.53 L350.98 377.33 L352.69 378.11 L354.39 378.88 L356.10 379.64 L357.81 380.38 L359.52 381.11 L361.22 381.83 L362.93 382.54 L364.64 383.23 L366.34 383.92 L368.05 384.59 L369.76 385.26 L371.47 385.91 L373.17 386.55 L374.88 387.18 L376.59 387.80 L378.29 388.42 L380.00 389.02 L381.71 389.61 L383.41 390.20 L385.12 390.77 L386.83 391.34 L388.54 391.90 L390.24 392.45 L391.95 392.99 L393.66 393.53 L395.36 394.05 L397.07 394.57 L398.78 395.09 L400.49 395.59 L402.19 396.09 L403.90 396.58 L405.61 397.06 L407.31 397.54 L409.02 398.01 L410.73 398.48 L412.43 398.94 L414.14 399.39 L415.85 399.84 L417.56 400.28 L419.26 400.71 L420.97 401.14 L422.68 401.56 L424.38 401.98 L426.09 402.39 L427.80 402.80 L429.51 403.20 L431.21 403.60 L432.92 403.99 L434.63 404.38 L436.33 404.76 L438.04 405.14 L439.75 405.51 L441.45 405.88 L443.16 406.24 L444.87 406.60 L446.58 406.96 L448.28 407.31 L449.99 407.66 L451.70 408.00 L453.40 408.34 L455.11 408.67 L456.82 409.00 L458.53 409.33 L460.23 409.65 L461.94 409.97 L463.65 410.29 L465.35 410.60 L467.06 410.91 L468.77 411.22 L470.47 411.52 L472.18 411.82 L473.89 412.11 L475.60 412.41 L477.30 412.70 L479.01 412.98 L480.72 413.26 L482.42 413.54 L484.13 413.82 L485.84 414.09 L487.55 414.37 L489.25 414.63 L490.96 414.90 L492.67 415.16 L494.37 415.42 L496.08 415.68 L497.79 415.93 L499.49 416.19 L501.20 416.43 L502.91 416.68 L504.62 416.93 L506.32 417.17 L508.03 417.41 L509.74 417.64 L511.44 417.88 L513.15 418.11 L514.86 418.34 L516.57 418.57 L518.27 418.79 L519.98 419.02 L521.69 419.24 L523.39 419.46 L525.10 419.68 L526.81 419.89 L528.51 420.10 L530.22 420.31 L531.93 420.52 L533.64 420.73 L535.34 420.94 L537.05 421.14 L538.76 421.34 L540.46 421.54 L542.17 421.74 L543.88 421.93 L545.59 422.13 L547.29 422.32 L549.00 422.51 L550.71 422.70 L552.41 422.88 L554.12 423.07 L555.83 423.25 L557.53 423.44 L559.24 423.62 L560.95 423.80 L562.66 423.97 L564.36 424.15 L566.07 424.32 L567.78 424.50 L569.48 424.67 L571.19 424.84 L572.90 425.01 L574.60 425.17 L576.31 425.34 L578.02 425.50 L579.73 425.66 L581.43 425.83 L583.14 425.99 L584.85 426.14 L586.55 426.30 L588.26 426.46 L589.97 426.61 L591.68 426.77 L593.38 426.92 L595.09 427.07 L596.80 427.22 L598.50 427.37 L600.21 427.52 L601.92 427.66 L603.62 427.81 L605.33 427.95 L607.04 428.09 L608.75 428.23 L610.45 428.37 L612.16 428.51 L613.87 428.65 L615.57 428.79 L617.28 428.93 L618.99 429.06 L620.70 429.19 L622.40 429.33 L624.11 429.46 L625.82 429.59 L627.52 429.72 L629.23 429.85 L630.94 429.98 L632.64 430.10 L634.35 430.23 L636.06 430.36 L637.77 430.48 L639.47 430.60 L641.18 430.73 L642.89 430.85 L644.59 430.97 L646.30 431.09 L648.01 431.21 L649.72 431.32 L651.42 431.44 L653.13 431.56 L654.84 431.67 L656.54 431.79 L658.25 431.90 L659.96 432.01 L661.66 432.12 L663.37 432.24 L665.08 432.35 L666.79 432.46 L668.49 432.57 L670.20 432.67" fill="none" stroke="#2cff2c" stroke-width="1.8" stroke-dasharray="1.45 2.83"/>
<path d="M262.21 322.45 L263.92 324.72 L265.63 326.92 L267.34 329.06 L269.04 331.13 L270.75 333.14 L272.46 335.09 L274.16 336.98 L275.87 338.82 L277.58 340.61 L279.28 342.35 L280.99 344.04 L282.70 345.68 L284.41 347.29 L286.11 348.85 L287.82 350.37 L289.53 351.85 L291.23 353.29 L292.94 354.70 L294.65 356.07 L296.36 357.41 L298.06 358.72 L299.77 360.00 L301.48 361.24 L303.18 362.46 L304.89 363.65 L306.60 364.82 L308.30 365.95 L310.01 367.07 L311.72 368.15 L313.43 369.22 L315.13 370.26 L316.84 371.28 L318.55 372.28 L320.25 373.26 L321.96 374.21 L323.67 375.15 L325.38 376.07 L327.08 376.97 L328.79 377.86 L330.50 378.72 L332.20 379.57 L333.91 380.40 L335.62 381.22 L337.32 382.02 L339.03 382.81 L340.74 383.58 L342.45 384.34 L344.15 385.09 L345.86 385.82 L347.57 386.53 L349.27 387.24 L350.98 387.93 L352.69 388.61 L354.39 389.28 L356.10 389.94 L357.81 390.59 L359.52 391.22 L361.22 391.85 L362.93 392.46 L364.64 393.07 L366.34 393.66 L368.05 394.25 L369.76 394.82 L371.47 395.39 L373.17 395.95 L374.88 396.50 L376.59 397.04 L378.29 397.57 L380.00 398.09 L381.71 398.61 L383.41 399.12 L385.12 399.62 L386.83 400.11 L388.54 400.60 L390.24 401.07 L391.95 401.55 L393.66 402.01 L395.36 402.47 L397.07 402.92 L398.78 403.37 L400.49 403.81 L402.19 404.24 L403.90 404.66 L405.61 405.09 L407.31 405.50 L409.02 405.91 L410.73 406.31 L412.43 406.71 L414.14 407.11 L415.85 407.49 L417.56 407.88 L419.26 408.25 L420.97 408.63 L422.68 408.99 L424.38 409.36 L426.09 409.72 L427.80 410.07 L429.51 410.42 L431.21 410.76 L432.92 411.10 L434.63 411.44 L436.33 411.77 L438.04 412.10 L439.75 412.43 L441.45 412.75 L443.16 413.06 L444.87 413.37 L446.58 413.68 L448.28 413.99 L449.99 414.29 L451.70 414.59 L453.40 414.88 L455.11 415.17 L456.82 415.46 L458.53 415.75 L460.23 416.03 L461.94 416.30 L463.65 416.58 L465.35 416.85 L467.06 417.12 L468.77 417.38 L470.47 417.65 L472.18 417.91 L473.89 418.16 L475.60 418.42 L477.30 418.67 L479.01 418.92 L480.72 419.16 L482.42 419.41 L484.13 419.65 L485.84 419.88 L487.55 420.12 L489.25 420.35 L490.96 420.58 L492.67 420.81 L494.37 421.04 L496.08 421.26 L497.79 421.48 L499.49 421.70 L501.20 421.92 L502.91 422.13 L504.62 422.35 L506.32 422.56 L508.03 422.76 L509.74 422.97 L511.44 423.17 L513.15 423.38 L514.86 423.58 L516.57 423.77 L518.27 423.97 L519.98 424.16 L521.69 424.36 L523.39 424.55 L525.10 424.73 L526.81 424.92 L528.51 425.11 L530.22 425.29 L531.93 425.47 L533.64 425.65 L535.34 425.83 L537.05 426.01 L538.76 426.18 L540.46 426.35 L542.17 426.53 L543.88 426.70 L545.59 426.86 L547.29 427.03 L549.00 427.20 L550.71 427.36 L552.41 427.52 L554.12 427.68 L555.83 427.84 L557.53 428.00 L559.24 428.16 L560.95 428.32 L562.66 428.47 L564.36 428.62 L566.07 428.77 L567.78 428.92 L569.48 429.07 L571.19 429.22 L572.90 429.37 L574.60 429.51 L576.31 429.66 L578.02 429.80 L579.73 429.94 L581.43 430.08 L583.14 430.22 L584.85 430.36 L586.55 430.49 L588.26 430.63 L589.97 430.76 L591.68 430.90 L593.38 431.03 L595.09 431.16 L596.80 431.29 L598.50 431.42 L600.21 431.55 L601.92 431.67 L603.62 431.80 L605.33 431.93 L607.04 432.05 L608.75 432.17 L610.45 432.29 L612.16 432.42 L613.87 432.54 L615.57 432.66 L617.28 432.77 L618.99 432.89 L620.70 433.01 L622.40 433.12 L624.11 433.24 L625.82 433.35 L627.52 433.46 L629.23 433.58 L630.94 433.69 L632.64 433.80 L634.35 433.91 L636.06 434.02 L637.77 434.12 L639.47 434.23 L641.18 434.34 L642.89 434.44 L644.59 434.55 L646.30 434.65 L648.01 434.75 L649.72 434.86 L651.42 434.96 L653.13 435.06 L654.84 435.16 L656.54 435.26 L658.25 435.36 L659.96 435.46 L661.66 435.55 L663.37 435.65 L665.08 435.75 L666.79 435.84 L668.49 435.94 L670.20 436.03" fill="none" stroke="#ff3636" stroke-width="1.8"/>
<path d="M259.20 458.30 v-10.00 M259.20 46.80 v10.00 M266.05 458.30 v-5.20 M266.05 46.80 v5.20 M272.90 458.30 v-5.20 M272.90 46.80 v5.20 M279.75 458.30 v-5.20 M279.75 46.80 v5.20 M286.60 458.30 v-5.20 M286.60 46.80 v5.20 M293.45 458.30 v-5.20 M293.45 46.80 v5.20 M300.30 458.30 v-5.20 M300.30 46.80 v5.20 M307.15 458.30 v-5.20 M307.15 46.80 v5.20 M314.00 458.30 v-5.20 M314.00 46.80 v5.20 M320.85 458.30 v-5.20 M320.85 46.80 v5.20 M327.70 458.30 v-10.00 M327.70 46.80 v10.00 M334.55 458.30 v-5.20 M334.55 46.80 v5.20 M341.40 458.30 v-5.20 M341.40 46.80 v5.20 M348.25 458.30 v-5.20 M348.25 46.80 v5.20 M355.10 458.30 v-5.20 M355.10 46.80 v5.20 M361.95 458.30 v-5.20 M361.95 46.80 v5.20 M368.80 458.30 v-5.20 M368.80 46.80 v5.20 M375.65 458.30 v-5.20 M375.65 46.80 v5.20 M382.50 458.30 v-5.20 M382.50 46.80 v5.20 M389.35 458.30 v-5.20 M389.35 46.80 v5.20 M396.20 458.30 v-10.00 M396.20 46.80 v10.00 M403.05 458.30 v-5.20 M403.05 46.80 v5.20 M409.90 458.30 v-5.20 M409.90 46.80 v5.20 M416.75 458.30 v-5.20 M416.75 46.80 v5.20 M423.60 458.30 v-5.20 M423.60 46.80 v5.20 M430.45 458.30 v-5.20 M430.45 46.80 v5.20 M437.30 458.30 v-5.20 M437.30 46.80 v5.20 M444.15 458.30 v-5.20 M444.15 46.80 v5.20 M451.00 458.30 v-5.20 M451.00 46.80 v5.20 M457.85 458.30 v-5.20 M457.85 46.80 v5.20 M464.70 458.30 v-10.00 M464.70 46.80 v10.00 M471.55 458.30 v-5.20 M471.55 46.80 v5.20 M478.40 458.30 v-5.20 M478.40 46.80 v5.20 M485.25 458.30 v-5.20 M485.25 46.80 v5.20 M492.10 458.30 v-5.20 M492.10 46.80 v5.20 M498.95 458.30 v-5.20 M498.95 46.80 v5.20 M505.80 458.30 v-5.20 M505.80 46.80 v5.20 M512.65 458.30 v-5.20 M512.65 46.80 v5.20 M519.50 458.30 v-5.20 M519.50 46.80 v5.20 M526.35 458.30 v-5.20 M526.35 46.80 v5.20 M533.20 458.30 v-10.00 M533.20 46.80 v10.00 M540.05 458.30 v-5.20 M540.05 46.80 v5.20 M546.90 458.30 v-5.20 M546.90 46.80 v5.20 M553.75 458.30 v-5.20 M553.75 46.80 v5.20 M560.60 458.30 v-5.20 M560.60 46.80 v5.20 M567.45 458.30 v-5.20 M567.45 46.80 v5.20 M574.30 458.30 v-5.20 M574.30 46.80 v5.20 M581.15 458.30 v-5.20 M581.15 46.80 v5.20 M588.00 458.30 v-5.20 M588.00 46.80 v5.20 M594.85 458.30 v-5.20 M594.85 46.80 v5.20 M601.70 458.30 v-10.00 M601.70 46.80 v10.00 M608.55 458.30 v-5.20 M608.55 46.80 v5.20 M615.40 458.30 v-5.20 M615.40 46.80 v5.20 M622.25 458.30 v-5.20 M622.25 46.80 v5.20 M629.10 458.30 v-5.20 M629.10 46.80 v5.20 M635.95 458.30 v-5.20 M635.95 46.80 v5.20 M642.80 458.30 v-5.20 M642.80 46.80 v5.20 M649.65 458.30 v-5.20 M649.65 46.80 v5.20 M656.50 458.30 v-5.20 M656.50 46.80 v5.20 M663.35 458.30 v-5.20 M663.35 46.80 v5.20 M670.20 458.30 v-10.00 M670.20 46.80 v10.00 M259.20 458.30 h10.00 M670.20 458.30 h-10.00 M259.20 446.54 h4.80 M670.20 446.54 h-4.80 M259.20 434.79 h4.80 M670.20 434.79 h-4.80 M259.20 423.03 h4.80 M670.20 423.03 h-4.80 M259.20 411.27 h4.80 M670.20 411.27 h-4.80 M259.20 399.51 h10.00 M670.20 399.51 h-10.00 M259.20 387.76 h4.80 M670.20 387.76 h-4.80 M259.20 376.00 h4.80 M670.20 376.00 h-4.80 M259.20 364.24 h4.80 M670.20 364.24 h-4.80 M259.20 352.49 h4.80 M670.20 352.49 h-4.80 M259.20 340.73 h10.00 M670.20 340.73 h-10.00 M259.20 328.97 h4.80 M670.20 328.97 h-4.80 M259.20 317.21 h4.80 M670.20 317.21 h-4.80 M259.20 305.46 h4.80 M670.20 305.46 h-4.80 M259.20 293.70 h4.80 M670.20 293.70 h-4.80 M259.20 281.94 h10.00 M670.20 281.94 h-10.00 M259.20 270.19 h4.80 M670.20 270.19 h-4.80 M259.20 258.43 h4.80 M670.20 258.43 h-4.80 M259.20 246.67 h4.80 M670.20 246.67 h-4.80 M259.20 234.91 h4.80 M670.20 234.91 h-4.80 M259.20 223.16 h10.00 M670.20 223.16 h-10.00 M259.20 211.40 h4.80 M670.20 211.40 h-4.80 M259.20 199.64 h4.80 M670.20 199.64 h-4.80 M259.20 187.89 h4.80 M670.20 187.89 h-4.80 M259.20 176.13 h4.80 M670.20 176.13 h-4.80 M259.20 164.37 h10.00 M670.20 164.37 h-10.00 M259.20 152.61 h4.80 M670.20 152.61 h-4.80 M259.20 140.86 h4.80 M670.20 140.86 h-4.80 M259.20 129.10 h4.80 M670.20 129.10 h-4.80 M259.20 117.34 h4.80 M670.20 117.34 h-4.80 M259.20 105.59 h10.00 M670.20 105.59 h-10.00 M259.20 93.83 h4.80 M670.20 93.83 h-4.80 M259.20 82.07 h4.80 M670.20 82.07 h-4.80 M259.20 70.31 h4.80 M670.20 70.31 h-4.80 M259.20 58.56 h4.80 M670.20 58.56 h-4.80 M259.20 46.80 h10.00 M670.20 46.80 h-10.00" stroke="#111" stroke-width="1.1" fill="none"/>
<rect x="259.2" y="46.8" width="411.0" height="411.5" fill="none" stroke="#1a1a1a" stroke-width="1.75" stroke-linejoin="round"/>
<line x1="464.1" y1="70.2" x2="568.0" y2="70.2" stroke="#b6b628" stroke-width="1.8" stroke-dasharray="14.4 1.5 1.1 1.5"/>
<line x1="464.1" y1="94.0" x2="566.2" y2="94.0" stroke="#22ffff" stroke-width="1.8" stroke-dasharray="1.5 3.0 8 2.4"/>
<line x1="464.1" y1="117.5" x2="568.0" y2="117.5" stroke="#ff22ff" stroke-width="1.8" stroke-dasharray="19.8 5.3"/>
<line x1="464.1" y1="140.9" x2="566.6" y2="140.9" stroke="#3c3cff" stroke-width="1.8" stroke-dasharray="8.6 4.9"/>
<line x1="464.1" y1="164.3" x2="567.2" y2="164.3" stroke="#2cff2c" stroke-width="1.8" stroke-dasharray="1.45 2.83"/>
<line x1="464.1" y1="188.0" x2="567.7" y2="188.0" stroke="#ff3636" stroke-width="1.8"/>
<text class="tk" x="250.7" y="463.1" text-anchor="end">0</text>
<text class="tk" x="250.7" y="404.3" text-anchor="end">0.05</text>
<text class="tk" x="250.7" y="345.5" text-anchor="end">0.1</text>
<text class="tk" x="250.7" y="286.7" text-anchor="end">0.15</text>
<text class="tk" x="250.7" y="228.0" text-anchor="end">0.2</text>
<text class="tk" x="250.7" y="169.2" text-anchor="end">0.25</text>
<text class="tk" x="250.7" y="110.4" text-anchor="end">0.3</text>
<text class="tk" x="250.7" y="51.6" text-anchor="end">0.35</text>
<text class="tk" x="259.7" y="476.8" text-anchor="middle">10</text>
<text class="tk" x="328.2" y="476.8" text-anchor="middle">20</text>
<text class="tk" x="396.7" y="476.8" text-anchor="middle">30</text>
<text class="tk" x="465.2" y="476.8" text-anchor="middle">40</text>
<text class="tk" x="533.7" y="476.8" text-anchor="middle">50</text>
<text class="tk" x="602.2" y="476.8" text-anchor="middle">60</text>
<text class="tk" x="670.7" y="476.8" text-anchor="middle">70</text>
<text x="581.4" y="75.0" fill="#a8a800" font-family="&quot;DejaVu Serif Condensed&quot;,&quot;DejaVu Serif&quot;,serif" font-weight="bold" font-size="16px">z</text>
<text x="600.5" y="75.3" fill="#a8a800" font-family="&quot;DejaVu Sans Mono&quot;,monospace" font-size="18.4px">=</text>
<text x="621.0" y="75.0" fill="#a8a800" font-family="&quot;DejaVu Serif&quot;,serif" font-size="15.3px" letter-spacing="0.7px" stroke="#a8a800" stroke-width="0.5">1.5</text>
<text x="581.4" y="98.3" fill="#00f0f0" font-family="&quot;DejaVu Serif Condensed&quot;,&quot;DejaVu Serif&quot;,serif" font-weight="bold" font-size="16px">z</text>
<text x="600.5" y="98.6" fill="#00f0f0" font-family="&quot;DejaVu Sans Mono&quot;,monospace" font-size="18.4px">=</text>
<text x="621.0" y="98.3" fill="#00f0f0" font-family="&quot;DejaVu Serif&quot;,serif" font-size="15.3px" letter-spacing="0.7px" stroke="#00f0f0" stroke-width="0.5">2.5</text>
<text x="581.4" y="121.7" fill="#f000f0" font-family="&quot;DejaVu Serif Condensed&quot;,&quot;DejaVu Serif&quot;,serif" font-weight="bold" font-size="16px">z</text>
<text x="600.5" y="122.0" fill="#f000f0" font-family="&quot;DejaVu Sans Mono&quot;,monospace" font-size="18.4px">=</text>
<text x="621.0" y="121.7" fill="#f000f0" font-family="&quot;DejaVu Serif&quot;,serif" font-size="15.3px" letter-spacing="0.7px" stroke="#f000f0" stroke-width="0.5">3.5</text>
<text x="581.4" y="144.9" fill="#0000f0" font-family="&quot;DejaVu Serif Condensed&quot;,&quot;DejaVu Serif&quot;,serif" font-weight="bold" font-size="16px">z</text>
<text x="600.5" y="145.2" fill="#0000f0" font-family="&quot;DejaVu Sans Mono&quot;,monospace" font-size="18.4px">=</text>
<text x="621.0" y="144.9" fill="#0000f0" font-family="&quot;DejaVu Serif&quot;,serif" font-size="15.3px" letter-spacing="0.7px" stroke="#0000f0" stroke-width="0.5">4.5</text>
<text x="581.4" y="168.3" fill="#00e600" font-family="&quot;DejaVu Serif Condensed&quot;,&quot;DejaVu Serif&quot;,serif" font-weight="bold" font-size="16px">z</text>
<text x="600.5" y="168.6" fill="#00e600" font-family="&quot;DejaVu Sans Mono&quot;,monospace" font-size="18.4px">=</text>
<text x="621.0" y="168.3" fill="#00e600" font-family="&quot;DejaVu Serif&quot;,serif" font-size="15.3px" letter-spacing="0.7px" stroke="#00e600" stroke-width="0.5">5.5</text>
<text x="581.4" y="191.9" fill="#f00000" font-family="&quot;DejaVu Serif Condensed&quot;,&quot;DejaVu Serif&quot;,serif" font-weight="bold" font-size="16px">z</text>
<text x="600.5" y="192.2" fill="#f00000" font-family="&quot;DejaVu Sans Mono&quot;,monospace" font-size="18.4px">=</text>
<text x="621.0" y="191.9" fill="#f00000" font-family="&quot;DejaVu Serif&quot;,serif" font-size="15.3px" letter-spacing="0.7px" stroke="#f00000" stroke-width="0.5">6.5</text>
<text class="dser" x="180.3" y="258.5" font-size="21.5px" font-style="italic">σ</text>
<text class="dser" x="196.2" y="266" font-size="13px">R</text>
<text class="dser" x="394.5" y="509.7" font-size="22.9px">R</text>
<text class="dser" transform="translate(425.15,510.8) scale(1,1.19)" font-size="22.9px">(</text>
<text class="dser" x="433.0" y="509.7" font-size="24px" font-style="italic">h</text>
<text class="dser" x="452.4 465" y="503.8" font-size="12.6px" stroke="#111" stroke-width="0.3">−1</text>
<text class="dserc" x="473.2" y="509.7" font-size="22.9px">M</text>
<text class="dser" x="493.05 509.7" y="509.7" font-size="22.9px">pc</text>
<text class="dser" transform="translate(524.05,510.8) scale(1,1.19)" font-size="22.9px">)</text>
</svg></body></html>
